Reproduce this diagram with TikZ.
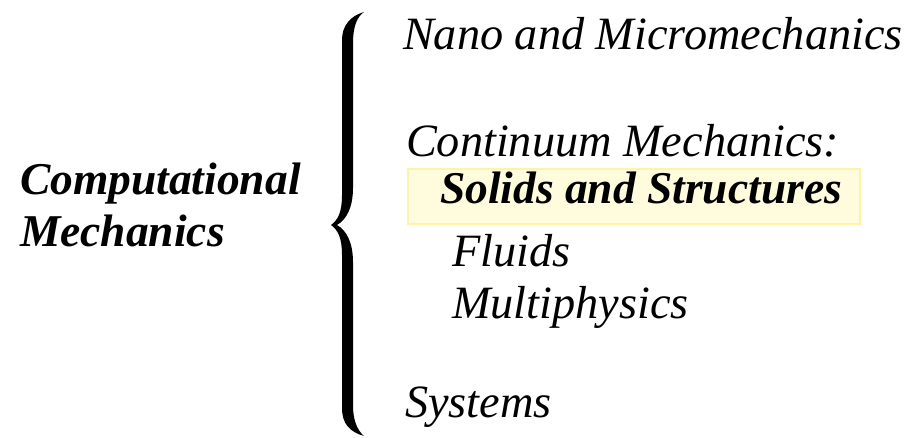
\documentclass[tikz,border=0pt]{standalone}
\usepackage{fontspec}
\setmainfont{Liberation Serif}
\definecolor{boxfill}{RGB}{255,252,222}
\definecolor{boxline}{RGB}{255,243,168}
\tikzset{
  lbl/.style={anchor=base west, inner sep=0pt, outer sep=0pt, font=\fontsize{46.3}{50}\selectfont\itshape},
  blbl/.style={lbl, font=\fontsize{45.5}{50}\selectfont\bfseries\itshape},
  hilite/.style={fill=boxfill, draw=boxline, line width=1.5pt}
}
\begin{document}
\begin{tikzpicture}[x=1pt,y=-1pt]
\useasboundingbox (0,0) rectangle (910,438);
% highlight box
\draw[hilite] (408,169) rectangle (860,224);
% left title
\node[blbl] (comp) at (20,195) {Computational};
\node[blbl] (mech) at (20,247) {Mechanics};
% brace
\fill[black] (364,12) .. controls (350,16) and (342,26) .. (342,40)
  -- (342,195) .. controls (342,212) and (338,220) .. (331,225)
  .. controls (338,230) and (342,238) .. (342,255)
  -- (342,408) .. controls (342,424) and (350,432) .. (364,436)
  .. controls (357,430) and (353,420) .. (353,405)
  -- (353,262) .. controls (353,242) and (346,230) .. (337,225)
  .. controls (346,220) and (353,208) .. (353,188)
  -- (353,44) .. controls (353,26) and (357,17) .. (364,12) -- cycle;
% right items
\node[lbl] (nano) at (403,50) {Nano and Micromechanics};
\node[lbl] (cont) at (406,157) {Continuum Mechanics:};
\node[blbl] (solid) at (440,204) {Solids and Structures};
\node[lbl] (flu) at (452,267) {Fluids};
\node[lbl] (multi) at (452,319) {Multiphysics};
\node[lbl] (sys) at (405,417) {Systems};
\end{tikzpicture}
\end{document}
